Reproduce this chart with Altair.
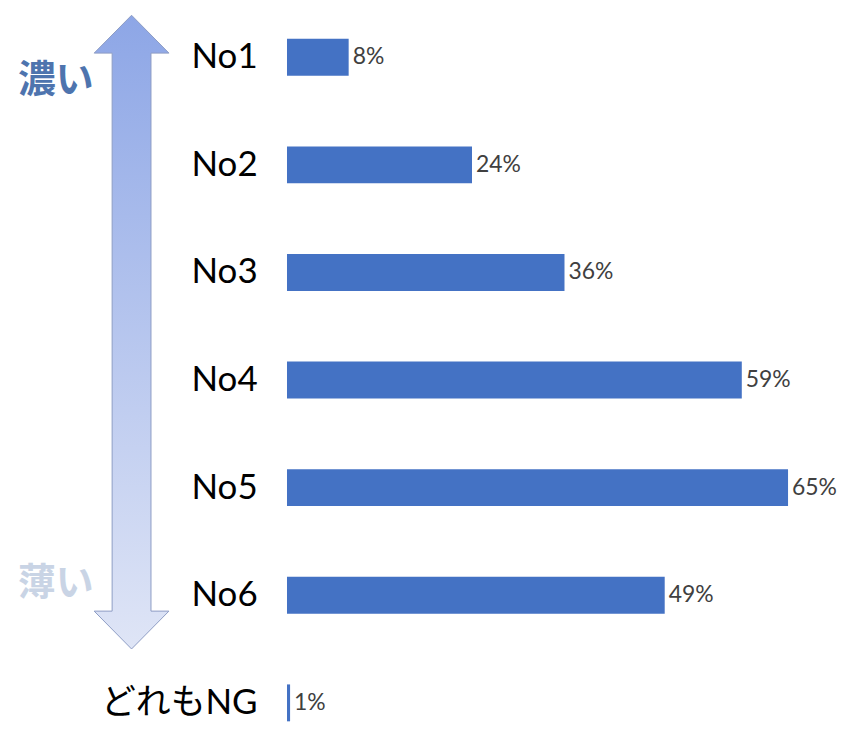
import altair as alt
import pandas as pd

categories = ["No1", "No2", "No3", "No4", "No5", "No6", "どれもNG"]
values = [8, 24, 36, 59, 65, 49, 0.4]
value_labels = ["8%", "24%", "36%", "59%", "65%", "49%", "1%"]

df = pd.DataFrame({"cat": categories, "value": values, "label": value_labels})

FONT = "Lato, 'Noto Sans CJK JP', sans-serif"

y_enc = alt.Y(
    "cat:N",
    sort=categories,
    scale=alt.Scale(paddingInner=0.657, paddingOuter=0.139, align=0.987),
    axis=alt.Axis(
        title=None, ticks=False, domain=False, grid=False,
        labelFontSize=35, labelFont=FONT, labelColor="#000000",
        labelPadding=30, labelLimit=300,
    ),
)
x_enc = alt.X("value:Q", scale=alt.Scale(domain=[0, 72]), axis=None)

base = alt.Chart(df)

bars = base.mark_bar(color="#4472C4").encode(x=x_enc, y=y_enc)

texts = base.mark_text(
    align="left", baseline="middle", dx=4, fontSize=23, color="#404040", font=FONT
).encode(x=x_enc, y=y_enc, text="label:N")

arrow_path = (
    "M0,-1 L0.118,-0.8805 L0.0613,-0.8805 L0.0613,0.8805 L0.118,0.8805 "
    "L0,1 L-0.118,0.8805 L-0.0613,0.8805 L-0.0613,-0.8805 L-0.118,-0.8805 Z"
)
grad = alt.LinearGradient(
    gradient="linear",
    stops=[
        alt.GradientStop(color="#8DA6E6", offset=0),
        alt.GradientStop(color="#DFE5F6", offset=1),
    ],
    x1=0, x2=0, y1=0, y2=1,
)
deco = pd.DataFrame({"k": [0]})
arrow = alt.Chart(deco).mark_point(
    shape=arrow_path, size=404496, filled=True, fill=grad, opacity=1,
    stroke="#8E9DC4", strokeWidth=1,
).encode(x=alt.value(-156), y=alt.value(324))

dark = alt.Chart(deco).mark_text(
    text="濃い", fontSize=38, fontWeight="bold", color="#4E74AE",
    font="'Noto Sans CJK JP'", align="center", baseline="middle",
).encode(x=alt.value(-232), y=alt.value(72))

light = alt.Chart(deco).mark_text(
    text="薄い", fontSize=38, fontWeight="bold", color="#C9D4E5",
    font="'Noto Sans CJK JP'", align="center", baseline="middle",
).encode(x=alt.value(-232), y=alt.value(577))

chart = alt.layer(arrow, dark, light, bars, texts).properties(
    width=557,
    height=715,
    autosize=alt.AutoSizeParams(type="none"),
    padding={"left": 280, "top": 0, "right": 0, "bottom": 0},
).configure_view(stroke=None)

chart.save("out.html", embed_options={"renderer": "svg", "actions": False})
